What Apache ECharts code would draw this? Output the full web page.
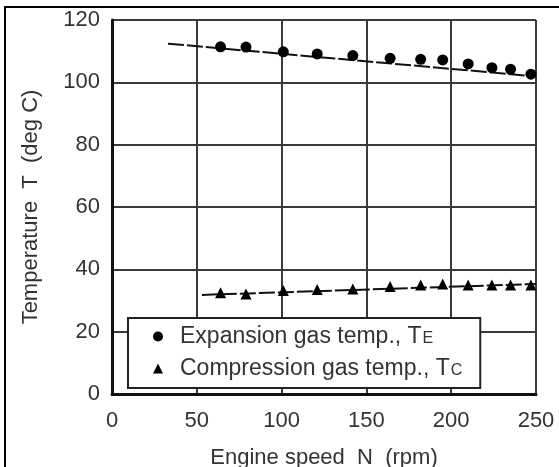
<!DOCTYPE html>
<html>
<head>
    <meta charset="utf-8">
    <title>Gas temperature vs engine speed</title>
    <script type="text/javascript" src="https://cdn.jsdelivr.net/npm/echarts@6/dist/echarts.min.js"></script>
    <style>
        html, body { margin: 0; padding: 0; background: #fff; }
    </style>
</head>
<body>
<div id="container" style="width: 559px; height: 467px"></div>
<script type="text/javascript">
    // engine speed (rpm) of the measured points
    var speed = [64, 79, 101, 121, 142, 164, 182, 195, 210, 224, 235, 247];
    // expansion gas temp TE (deg C)
    var tempE = [111.4, 111.3, 109.8, 109.1, 108.6, 107.7, 107.4, 107.2, 105.9, 104.7, 104.2, 102.6];
    // compression gas temp TC (deg C)
    var tempC = [32.5, 32.1, 33.2, 33.5, 33.7, 34.5, 35.0, 35.3, 35.0, 35.0, 35.0, 35.0];
    // fitted trend lines (end points)
    var fitE = [[33, 112.4], [250, 101.9]];
    var fitC = [[53, 31.8], [250, 35.3]];
    var xTicks = [0, 50, 100, 150, 200, 250];
    var yTicks = [0, 20, 40, 60, 80, 100, 120];

    var dom = document.getElementById('container');
    var myChart = echarts.init(dom, null, { renderer: 'canvas' });

    var font = 'Liberation Sans, Arial, sans-serif';
    var textColor = '#333';

    function pairs(xs, ys) {
        var out = [];
        for (var i = 0; i < xs.length; i++) out.push([xs[i], ys[i]]);
        return out;
    }

    var option = {
        animation: false,
        backgroundColor: '#fff',
        grid: { left: 112, top: 20, width: 424, height: 374, outerBoundsMode: 'none', containLabel: false },
        graphic: [{
            type: 'rect',
            shape: { x: 5, y: 7, width: 600, height: 500 },
            style: { fill: 'none', stroke: '#000', lineWidth: 2 },
            silent: true
        }],
        xAxis: {
            type: 'value',
            min: xTicks[0],
            max: xTicks[xTicks.length - 1],
            interval: 50,
            name: 'Engine speed  N  (rpm)',
            nameLocation: 'middle',
            nameGap: 53,
            nameTextStyle: { fontFamily: font, fontSize: 22, color: textColor },
            axisLine: { show: true, lineStyle: { color: '#111', width: 3 } },
            axisTick: { show: false },
            axisLabel: { fontFamily: font, fontSize: 22, color: textColor, margin: 16 },
            splitLine: { show: true, lineStyle: { color: '#3a3a3a', width: 2 } }
        },
        yAxis: {
            type: 'value',
            min: yTicks[0],
            max: yTicks[yTicks.length - 1],
            interval: 20,
            name: 'Temperature  T  (deg C)',
            nameLocation: 'middle',
            nameGap: 70,
            nameTextStyle: { fontFamily: font, fontSize: 22, color: textColor },
            axisLine: { show: true, lineStyle: { color: '#111', width: 3 } },
            axisTick: { show: false },
            axisLabel: { fontFamily: font, fontSize: 22, color: textColor, margin: 12 },
            splitLine: { show: true, lineStyle: { color: '#3a3a3a', width: 2 } }
        },
        legend: {
            orient: 'vertical',
            left: 128,
            top: 318,
            padding: [7, 18, 8, 25],
            itemGap: 9,
            itemWidth: 10,
            itemHeight: 10,
            backgroundColor: '#fff',
            borderColor: '#222',
            borderWidth: 2,
            borderRadius: 0,
            data: [
                { name: 'TE', icon: 'circle' },
                { name: 'TC', icon: 'triangle' }
            ],
            formatter: function (name) {
                if (name === 'TE') return '{g|}{t|Expansion gas temp., T}{s|E}';
                return '{g|}{t|Compression gas temp., T}{s|C}';
            },
            textStyle: {
                rich: {
                    g: { width: 12 },
                    t: { fontFamily: font, fontSize: 23, color: textColor, lineHeight: 26 },
                    s: { fontFamily: font, fontSize: 16, color: textColor, lineHeight: 26, padding: [5, 0, 0, 1] }
                }
            }
        },
        series: [
            {
                name: 'TE',
                type: 'line',
                data: pairs(speed, tempE),
                symbol: 'circle',
                symbolSize: 11,
                itemStyle: { color: '#000' },
                lineStyle: { width: 0, opacity: 0 },
                z: 5
            },
            {
                name: 'TC',
                type: 'line',
                data: pairs(speed, tempC),
                symbol: 'triangle',
                symbolSize: 11,
                itemStyle: { color: '#000' },
                lineStyle: { width: 0, opacity: 0 },
                z: 5
            },
            {
                name: 'fitE',
                type: 'line',
                data: fitE,
                symbol: 'none',
                lineStyle: { color: '#111', width: 2, type: [16, 3] },
                z: 4
            },
            {
                name: 'fitC',
                type: 'line',
                data: fitC,
                symbol: 'none',
                lineStyle: { color: '#111', width: 2, type: [16, 3] },
                z: 4
            }
        ]
    };

    myChart.setOption(option);
    window.addEventListener('resize', myChart.resize);
</script>
</body>
</html>
